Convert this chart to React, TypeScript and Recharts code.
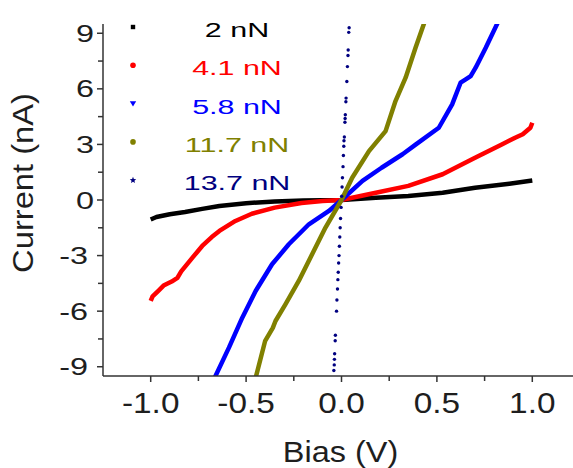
import React from "react";
import { ComposedChart, Line, Scatter, XAxis, YAxis, Legend } from "recharts";

// ---- data ----
const black2X = [-1.0, -0.97, -0.9, -0.82, -0.73, -0.64, -0.5, -0.35, -0.2, 0, 0.18, 0.35, 0.53, 0.7, 0.88, 1.0];
const black2Y = [-1.05, -0.92, -0.77, -0.65, -0.48, -0.32, -0.17, -0.08, -0.03, 0, 0.12, 0.22, 0.39, 0.66, 0.88, 1.05];

const red41X = [-1.0, -0.99, -0.96, -0.93, -0.89, -0.86, -0.84, -0.78, -0.73, -0.68, -0.64, -0.556, -0.47, -0.35, -0.21, -0.1, 0, 0.18, 0.35, 0.53, 0.7, 0.84, 0.91, 0.95, 0.99, 1.0];
const red41Y = [-5.45, -5.2, -4.9, -4.6, -4.4, -4.2, -3.85, -3.1, -2.48, -2.0, -1.67, -1.13, -0.74, -0.41, -0.16, -0.05, 0, 0.39, 0.76, 1.39, 2.28, 3.0, 3.36, 3.55, 3.9, 4.17];

const blue58X = [-0.665, -0.59, -0.52, -0.45, -0.364, -0.276, -0.171, -0.066, 0, 0.11, 0.21, 0.32, 0.39, 0.51, 0.58, 0.624, 0.651, 0.677, 0.703, 0.756, 0.82];
const blue58Y = [-9.6, -7.97, -6.35, -4.91, -3.47, -2.39, -1.31, -0.59, 0, 1.03, 1.74, 2.47, 3.0, 3.9, 5.16, 6.33, 6.51, 6.69, 7.14, 8.22, 9.6];

const olive117X = [-0.45, -0.4, -0.36, -0.346, -0.294, -0.224, -0.154, -0.084, 0, 0.056, 0.144, 0.231, 0.283, 0.336, 0.388, 0.435];
const olive117Y = [-9.6, -7.6, -6.9, -6.53, -5.63, -4.37, -2.93, -1.49, 0, 1.2, 2.64, 3.72, 5.34, 6.6, 8.22, 9.6];

const navy137X = [0.04, 0.038, 0.035, 0.034, 0.031, 0.028, 0.024, 0.023, 0.02, 0.019, 0.018, 0.015, 0.013, 0.012, 0.01, 0.008, 0.005, 0.003, 0.001, -0.002, -0.005, -0.007, -0.009, -0.011, -0.013, -0.015, -0.017, -0.019, -0.021, -0.024, -0.026, -0.032, -0.033, -0.036, -0.037, -0.038, -0.04];
const navy137Y = [9.3, 9.05, 8.1, 7.8, 7.2, 6.4, 5.5, 5.3, 4.6, 4.4, 4.2, 3.4, 3.2, 2.9, 2.4, 1.8, 1.2, 0.7, 0.2, -0.4, -1.0, -1.5, -2.0, -2.5, -3.0, -3.4, -3.9, -4.3, -4.8, -5.4, -6.0, -7.3, -7.6, -8.3, -8.6, -8.9, -9.2];

const seriesNames = ["2 nN", "4.1 nN", "5.8 nN", "11.7 nN", "13.7 nN"];
const seriesColors = ["#000000", "#ff0000", "#0000ff", "#808000", "#000080"];

const xTicks = [-1.0, -0.75, -0.5, -0.25, 0, 0.25, 0.5, 0.75, 1.0];
const yTicks = [-9, -7.5, -6, -4.5, -3, -1.5, 0, 1.5, 3, 4.5, 6, 7.5, 9];

const xLabel = "Bias (V)";
const yLabel = "Current (nA)";

const zip = (xs: number[], ys: number[]) => xs.map((x, i) => ({ x, y: ys[i] }));

const FONT = "'Liberation Sans', Arial, sans-serif";
const AXIS = "#333333";
const TEXT = "#1e1e1e";

const isMajor = (v: number, step: number) => Math.abs(v / step - Math.round(v / step)) < 1e-6;

const XTick = (props: any) => {
  const { x, y, payload } = props;
  const v = payload.value as number;
  const major = isMajor(v, 0.5);
  return (
    <g>
      <line x1={x} x2={x} y1={y} y2={y + (major ? 6 : 5)} stroke={AXIS} strokeWidth={1.5} />
      {major && (
        <text
          transform={`translate(${x},${y + 37}) scale(1.15,1)`}
          textAnchor="middle"
          fontSize={29}
          fill={TEXT}
          fontFamily={FONT}
        >
          {v.toFixed(1)}
        </text>
      )}
    </g>
  );
};

const YTick = (props: any) => {
  const { x, y, payload } = props;
  const v = payload.value as number;
  const major = isMajor(v, 3);
  const off = v < 0 ? 15 : 9;
  return (
    <g>
      <line x1={x - (major ? 6 : 5)} x2={x} y1={y} y2={y} stroke={AXIS} strokeWidth={1.5} />
      {major && (
        <text
          transform={`translate(${x - off},${y + 8.5}) scale(1.35,1)`}
          textAnchor="end"
          fontSize={24}
          fill={TEXT}
          fontFamily={FONT}
        >
          {String(v)}
        </text>
      )}
    </g>
  );
};

const XAxisLabel = (props: any) => {
  const vb = props.viewBox || { x: 0, y: 0, width: 0, height: 0 };
  const cx = vb.x + vb.width / 2 - 1;
  return (
    <text
      transform={`translate(${cx},${vb.y + 86}) scale(1.12,1)`}
      textAnchor="middle"
      fontSize={29}
      fill={TEXT}
      fontFamily={FONT}
    >
      {xLabel}
    </text>
  );
};

const YAxisLabel = (props: any) => {
  const vb = props.viewBox || { x: 0, y: 0, width: 0, height: 0 };
  const cy = vb.y + vb.height / 2 - 17;
  return (
    <text
      transform={`translate(${vb.x + 33},${cy}) rotate(-90) scale(1.09,1)`}
      textAnchor="middle"
      fontSize={30}
      fill={TEXT}
      fontFamily={FONT}
    >
      {yLabel}
    </text>
  );
};

const LegendSymbol = ({ i, cx, cy }: { i: number; cx: number; cy: number }) => {
  const c = seriesColors[i];
  if (i === 0) return <rect x={cx - 2.2} y={cy - 2.2} width={4.4} height={4.4} fill={c} />;
  if (i === 1 || i === 3) return <circle cx={cx} cy={cy} r={2.8} fill={c} />;
  if (i === 2)
    return <polygon points={`${cx - 3.2},${cy - 2.4} ${cx + 3.2},${cy - 2.4} ${cx},${cy + 3}`} fill={c} />;
  const pts: string[] = [];
  for (let k = 0; k < 10; k++) {
    const r = k % 2 === 0 ? 3.4 : 1.5;
    const a = -Math.PI / 2 + (k * Math.PI) / 5;
    pts.push(`${cx + r * Math.cos(a)},${cy + r * Math.sin(a)}`);
  }
  return <polygon points={pts.join(" ")} fill={c} />;
};

const renderLegend = () => (
  <svg width={320} height={210} style={{ display: "block" }}>
    {seriesNames.map((name, i) => {
      const rowY = 27 + i * 38.3;
      return (
        <g key={name}>
          <LegendSymbol i={i} cx={133} cy={rowY} />
          <text
            transform={`translate(237,${rowY + 10}) scale(1.45,1)`}
            textAnchor="middle"
            fontSize={21}
            fill={seriesColors[i]}
            fontFamily={FONT}
          >
            {name}
          </text>
        </g>
      );
    })}
  </svg>
);

const NavyDot = (props: any) => {
  const { cx, cy } = props;
  if (cx == null || cy == null) return null;
  return <circle cx={cx} cy={cy} r={1.7} fill={seriesColors[4]} />;
};

export default function App() {
  const lines = [
    zip(black2X, black2Y),
    zip(red41X, red41Y),
    zip(blue58X, blue58Y),
    zip(olive117X, olive117Y),
  ];
  const dots = zip(navy137X, navy137Y);
  return (
    <div
      style={{
        position: "absolute",
        left: 0,
        top: 0,
        width: 573,
        height: 468,
        overflow: "hidden",
        background: "#ffffff",
      }}
    >
      <ComposedChart width={600} height={468} margin={{ top: 24, right: 20, bottom: 0, left: 0 }}>
        <XAxis
          type="number"
          dataKey="x"
          domain={[-1.25, 1.25]}
          allowDataOverflow
          ticks={xTicks}
          interval={0}
          tickSize={0}
          tickMargin={0}
          tickLine={false}
          tick={<XTick />}
          axisLine={{ stroke: AXIS, strokeWidth: 1.5 }}
          height={92}
          label={<XAxisLabel />}
        />
        <YAxis
          type="number"
          dataKey="y"
          domain={[-9.5, 9.5]}
          allowDataOverflow
          ticks={yTicks}
          interval={0}
          tickSize={0}
          tickMargin={0}
          tickLine={false}
          tick={<YTick />}
          axisLine={{ stroke: AXIS, strokeWidth: 1.5 }}
          width={103}
          label={<YAxisLabel />}
        />
        <Legend
          content={renderLegend}
          layout="horizontal"
          verticalAlign="middle"
          align="center"
          wrapperStyle={{ left: 0, top: 0, width: 320, height: 210 }}
        />
        {lines.map((d, i) => (
          <Line
            key={seriesNames[i]}
            name={seriesNames[i]}
            data={d}
            dataKey="y"
            type="linear"
            stroke={seriesColors[i]}
            strokeWidth={4.5}
            dot={false}
            activeDot={false}
            isAnimationActive={false}
            strokeLinejoin="round"
          />
        ))}
        <Scatter
          name={seriesNames[4]}
          data={dots}
          dataKey="y"
          fill={seriesColors[4]}
          shape={<NavyDot />}
          isAnimationActive={false}
        />
      </ComposedChart>
    </div>
  );
}
